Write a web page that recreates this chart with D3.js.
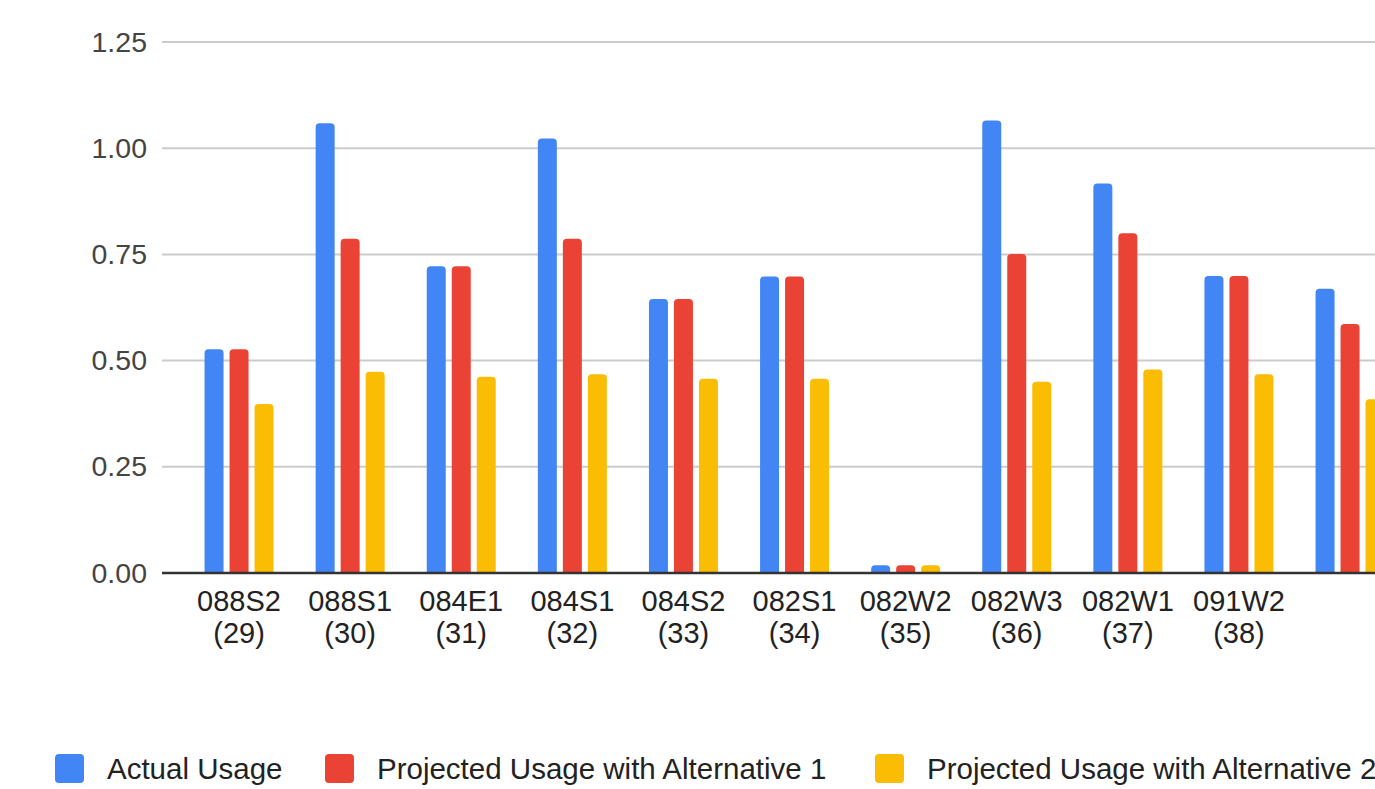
<!DOCTYPE html>
<html>
<head>
<meta charset="utf-8">
<script src="https://cdn.jsdelivr.net/npm/d3@7"></script>
<style>
  html, body { margin: 0; padding: 0; background: #ffffff; overflow: hidden; }
  svg { display: block; font-family: "Liberation Sans", Arial, sans-serif; }
</style>
</head>
<body>
<svg id="chart" width="1375" height="789"></svg>
<script>
// Station codes and their sequence numbers (two-line axis labels)
const stationCodes = ["088S2", "088S1", "084E1", "084S1", "084S2", "082S1", "082W2", "082W3", "082W1", "091W2", ""];
const stationNumbers = ["(29)", "(30)", "(31)", "(32)", "(33)", "(34)", "(35)", "(36)", "(37)", "(38)", ""];

// Series
const seriesNames = ["Actual Usage", "Projected Usage with Alternative 1", "Projected Usage with Alternative 2"];
const actualUsage = [0.527, 1.059, 0.722, 1.023, 0.645, 0.698, 0.018, 1.065, 0.917, 0.699, 0.669];
const alternative1 = [0.527, 0.787, 0.722, 0.787, 0.645, 0.698, 0.018, 0.751, 0.800, 0.699, 0.586];
const alternative2 = [0.398, 0.474, 0.462, 0.468, 0.457, 0.457, 0.018, 0.450, 0.479, 0.468, 0.409];

// Y axis ticks
const yTicks = [0, 0.25, 0.5, 0.75, 1.0, 1.25];

const seriesColors = ["#4285F4", "#EA4335", "#FBBC04"];

const svg = d3.select("#chart");
const width = 1375;

const plotLeft = 162;
const plotRight = width;
const y = d3.scaleLinear().domain([0, 1.25]).range([573, 42]);

const slots = stationCodes.map((c, i) => i);
const x0 = d3.scaleBand()
  .domain(slots)
  .range([183.5, 183.5 + slots.length * 111.1])
  .paddingInner(0.379)
  .paddingOuter(0.1895);

const x1 = d3.scaleBand()
  .domain(d3.range(seriesNames.length))
  .range([0, x0.bandwidth()])
  .paddingInner(0.24);

const color = d3.scaleOrdinal().domain(d3.range(3)).range(seriesColors);
const values = [actualUsage, alternative1, alternative2];

// Gridlines
svg.append("g")
  .selectAll("line")
  .data(yTicks.filter(t => t > 0))
  .join("line")
  .attr("x1", plotLeft).attr("x2", plotRight)
  .attr("y1", d => y(d)).attr("y2", d => y(d))
  .attr("stroke", "#cccccc")
  .attr("stroke-width", 2);

// Y axis labels
const yAxis = d3.axisLeft(y).tickValues(yTicks).tickFormat(d3.format(".2f")).tickSize(0).tickPadding(0);
const yg = svg.append("g").attr("transform", `translate(147,0)`).call(yAxis);
yg.select(".domain").remove();
yg.selectAll("text")
  .attr("font-size", 28.5)
  .attr("font-family", "Liberation Sans, Arial, sans-serif")
  .attr("fill", "#444444");

// Bars with rounded tops
function barPath(bx, by, bw, bh, r) {
  r = Math.min(r, bw / 2, bh);
  return `M${bx},${by + bh}` +
    `V${by + r}` +
    `Q${bx},${by} ${bx + r},${by}` +
    `H${bx + bw - r}` +
    `Q${bx + bw},${by} ${bx + bw},${by + r}` +
    `V${by + bh}Z`;
}

const groups = svg.append("g")
  .selectAll("g")
  .data(slots)
  .join("g")
  .attr("transform", i => `translate(${x0(i)},0)`);

groups.selectAll("path")
  .data(i => values.map((arr, s) => ({ s, v: arr[i] })))
  .join("path")
  .attr("d", d => barPath(x1(d.s), y(d.v), x1.bandwidth(), y(0) - y(d.v), 4))
  .attr("fill", d => color(d.s));

// Baseline
svg.append("line")
  .attr("x1", plotLeft).attr("x2", plotRight)
  .attr("y1", y(0)).attr("y2", y(0))
  .attr("stroke", "#333333")
  .attr("stroke-width", 2.5);

// X axis labels
const xl = svg.append("g")
  .selectAll("text")
  .data(slots)
  .join("text")
  .attr("text-anchor", "middle")
  .attr("font-size", 29)
  .attr("fill", "#222222")
  .attr("x", i => x0(i) + x0.bandwidth() / 2)
  .attr("y", 611);
xl.append("tspan").text(i => stationCodes[i]);
xl.append("tspan")
  .attr("x", i => x0(i) + x0.bandwidth() / 2)
  .attr("y", 643)
  .text(i => stationNumbers[i]);

// Legend: swatch positions along the bottom row
const legendX = [55, 325, 875];
const legend = svg.append("g");
seriesNames.forEach((name, s) => {
  const lx = legendX[s];
  legend.append("rect")
    .attr("x", lx).attr("y", 754)
    .attr("width", 29).attr("height", 29)
    .attr("rx", 4)
    .attr("fill", color(s));
  legend.append("text")
    .attr("x", lx + 52).attr("y", 779)
    .attr("font-size", 29.5)
    .attr("fill", "#222222")
    .text(name);
});
</script>
</body>
</html>
